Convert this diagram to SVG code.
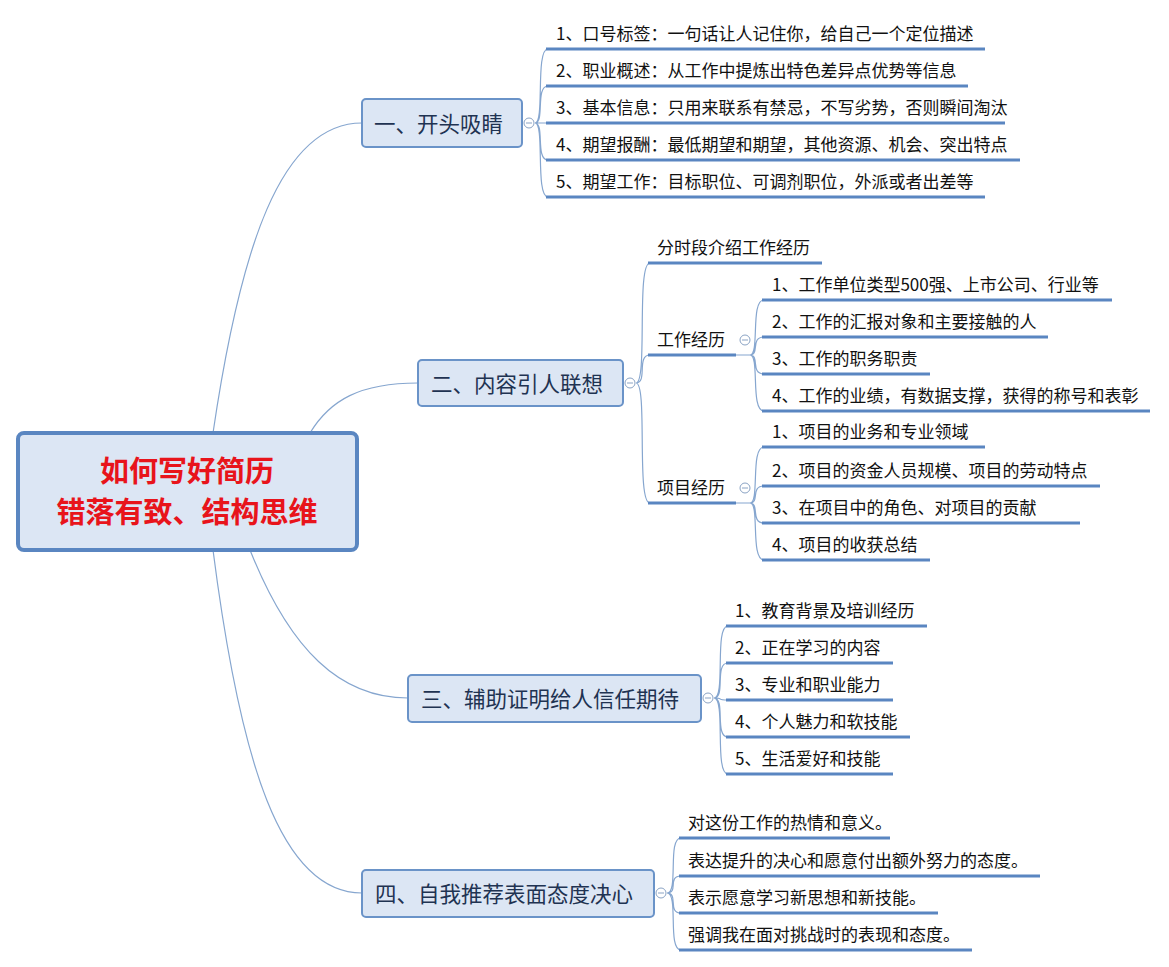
<svg xmlns="http://www.w3.org/2000/svg" width="1169" height="967" viewBox="0 0 1169 967">
<style>
.bx{fill:#dce6f4;stroke:#6a93c8;stroke-width:2}
.ul{stroke:#5a86c1;stroke-width:3;fill:none}
.cv{stroke:#86a6cf;stroke-width:1.2;fill:none}
.ci{fill:#fff;stroke:#8aa3c4;stroke-width:1}
.bt{font-family:"Noto Sans CJK SC",sans-serif;font-size:21.5px;fill:#1f3352}
.lt{font-family:"Noto Sans CJK SC",sans-serif;font-size:17px;fill:#111}
.mt{font-family:"Noto Sans CJK SC",sans-serif;font-size:29px;font-weight:bold;fill:#e8141b;text-anchor:middle}
</style>
<rect width="1169" height="967" fill="#fff"/>
<g id="connectors">
<path class="cv" d="M213,433 C240,250 280,123 362,123"/>
<path class="cv" d="M310,433 C330,400 360,383 418,383"/>
<path class="cv" d="M250,550 C290,650 340,698 408,698"/>
<path class="cv" d="M213,550 C240,760 280,893 362,893"/>
<path class="cv" d="M535,123 C545,123 535,49 548,49 M535,123 C545,123 535,86 548,86 M535,123 L548,123 M535,123 C545,123 535,160 548,160 M535,123 C545,123 535,197 548,197"/>
<path class="cv" d="M636,383 C648,383 636,263 650,263 M636,383 C648,383 636,355 650,355 M636,383 C648,383 636,503 650,503"/>
<path class="cv" d="M736,355 L750,355 C760,355 750,300 764,300 M750,355 C760,355 750,337 764,337 M750,355 C760,355 750,374 764,374 M750,355 C760,355 750,411 764,411"/>
<path class="cv" d="M736,503 L750,503 C760,503 750,447 764,447 M750,503 C760,503 750,486 764,486 M750,503 C760,503 750,523 764,523 M750,503 C760,503 750,560 764,560"/>
<path class="cv" d="M714,698 C726,698 714,626 728,626 M714,698 C726,698 714,663 728,663 M714,698 C726,698 714,700 728,700 M714,698 C726,698 714,737 728,737 M714,698 C726,698 714,774 728,774"/>
<path class="cv" d="M667,893 C679,893 667,838 681,838 M667,893 C679,893 667,876 681,876 M667,893 C679,893 667,913 681,913 M667,893 C679,893 667,950 681,950"/>
</g>
<g id="main"><rect x="18" y="433" width="339" height="117" rx="6" fill="#dce6f4" stroke="#5a86c1" stroke-width="4"/>
<text class="mt" x="187" y="482">如何写好简历</text><text class="mt" x="187" y="523">错落有致、结构思维</text></g>
<g id="b1"><rect class="bx" x="362" y="99" width="160" height="48" rx="4"/><text class="bt" x="374" y="132">一、开头吸睛</text><circle class="ci" cx="529" cy="123" r="5"/><line x1="526" y1="123" x2="532" y2="123" stroke="#8aa3c4"/>
<path class="ul" d="M546,49H985M546,86H968M546,123H1005M546,160H1020M546,197H985"/>
<text class="lt" x="556" y="40">1、口号标签：一句话让人记住你，给自己一个定位描述</text>
<text class="lt" x="556" y="77">2、职业概述：从工作中提炼出特色差异点优势等信息</text>
<text class="lt" x="556" y="114">3、基本信息：只用来联系有禁忌，不写劣势，否则瞬间淘汰</text>
<text class="lt" x="556" y="151">4、期望报酬：最低期望和期望，其他资源、机会、突出特点</text>
<text class="lt" x="556" y="188">5、期望工作：目标职位、可调剂职位，外派或者出差等</text></g>
<g id="b2"><rect class="bx" x="418" y="360" width="205" height="46" rx="4"/><text class="bt" x="431" y="392">二、内容引人联想</text><circle class="ci" cx="630" cy="383" r="5"/><line x1="627" y1="383" x2="633" y2="383" stroke="#8aa3c4"/>
<path class="ul" d="M648,263H822M648,355H736M648,503H736"/>
<text class="lt" x="657" y="254">分时段介绍工作经历</text>
<text class="lt" x="657" y="346">工作经历</text><circle class="ci" cx="745" cy="340" r="5"/><line x1="742" y1="340" x2="748" y2="340" stroke="#8aa3c4"/>
<text class="lt" x="657" y="494">项目经历</text><circle class="ci" cx="745" cy="488" r="5"/><line x1="742" y1="488" x2="748" y2="488" stroke="#8aa3c4"/>
<path class="ul" d="M762,300H1112M762,337H1048M762,374H930M762,411H1150M762,447H985M762,486H1100M762,523H1080M762,560H930"/>
<text class="lt" x="772" y="291">1、工作单位类型500强、上市公司、行业等</text>
<text class="lt" x="772" y="328">2、工作的汇报对象和主要接触的人</text>
<text class="lt" x="772" y="365">3、工作的职务职责</text>
<text class="lt" x="772" y="402">4、工作的业绩，有数据支撑，获得的称号和表彰</text>
<text class="lt" x="772" y="438">1、项目的业务和专业领域</text>
<text class="lt" x="772" y="477">2、项目的资金人员规模、项目的劳动特点</text>
<text class="lt" x="772" y="514">3、在项目中的角色、对项目的贡献</text>
<text class="lt" x="772" y="551">4、项目的收获总结</text></g>
<g id="b3"><rect class="bx" x="408" y="675" width="293" height="47" rx="4"/><text class="bt" x="421" y="707">三、辅助证明给人信任期待</text><circle class="ci" cx="708" cy="698" r="5"/><line x1="705" y1="698" x2="711" y2="698" stroke="#8aa3c4"/>
<path class="ul" d="M726,626H927M726,663H893M726,700H893M726,737H910M726,774H893"/>
<text class="lt" x="735" y="617">1、教育背景及培训经历</text>
<text class="lt" x="735" y="654">2、正在学习的内容</text>
<text class="lt" x="735" y="691">3、专业和职业能力</text>
<text class="lt" x="735" y="728">4、个人魅力和软技能</text>
<text class="lt" x="735" y="765">5、生活爱好和技能</text></g>
<g id="b4"><rect class="bx" x="362" y="870" width="292" height="47" rx="4"/><text class="bt" x="375" y="902">四、自我推荐表面态度决心</text><circle class="ci" cx="661" cy="893" r="5"/><line x1="658" y1="893" x2="664" y2="893" stroke="#8aa3c4"/>
<path class="ul" d="M679,838H890M679,876H1040M679,913H938M679,950H972"/>
<text class="lt" x="688" y="829">对这份工作的热情和意义。</text>
<text class="lt" x="688" y="867">表达提升的决心和愿意付出额外努力的态度。</text>
<text class="lt" x="688" y="904">表示愿意学习新思想和新技能。</text>
<text class="lt" x="688" y="941">强调我在面对挑战时的表现和态度。</text></g>
</svg>
